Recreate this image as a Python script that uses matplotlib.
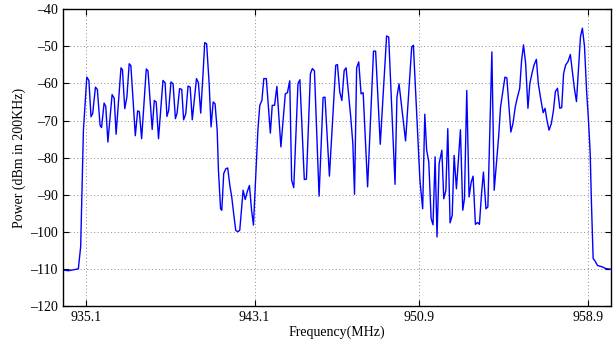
import matplotlib
matplotlib.use("Agg")
import matplotlib.pyplot as plt

# spectrum scan, values
freq_mhz = [
    934.01, 934.28, 934.75, 934.86, 934.99, 935.15, 935.25, 935.35, 935.43, 935.56,
    935.65, 935.78, 935.85, 935.97, 936.05, 936.15, 936.35, 936.45, 936.54, 936.77,
    936.84, 936.95, 937.05, 937.16, 937.24, 937.45, 937.56, 937.64, 937.75, 937.97,
    938.05, 938.25, 938.35, 938.44, 938.55, 938.76, 938.86, 938.95, 939.03, 939.14,
    939.24, 939.35, 939.43, 939.55, 939.65, 939.74, 939.84, 939.95, 940.05, 940.15,
    940.25, 940.35, 940.44, 940.55, 940.66, 940.74, 940.83, 940.95, 941.04, 941.14,
    941.23, 941.33, 941.39, 941.49, 941.55, 941.64, 941.74, 941.83, 941.93, 942.02,
    942.12, 942.21, 942.31, 942.40, 942.56, 942.66, 942.75, 942.86, 942.96, 943.05,
    943.15, 943.26, 943.35, 943.45, 943.54, 943.66, 943.85, 943.94, 944.05, 944.16,
    944.35, 944.56, 944.66, 944.77, 944.86, 944.96, 945.16, 945.25, 945.46, 945.56,
    945.75, 945.84, 945.94, 946.16, 946.35, 946.44, 946.65, 946.95, 947.03, 947.14,
    947.24, 947.35, 947.44, 947.66, 947.76, 947.84, 947.94, 948.04, 948.15, 948.25,
    948.46, 948.74, 948.84, 949.06, 949.36, 949.46, 949.76, 949.85, 949.95, 950.26,
    950.55, 950.63, 950.94, 951.07, 951.17, 951.26, 951.36, 951.47, 951.56, 951.66,
    951.75, 951.85, 951.98, 952.07, 952.17, 952.26, 952.37, 952.47, 952.56, 952.67,
    952.76, 952.86, 952.97, 953.05, 953.16, 953.27, 953.37, 953.46, 953.57, 953.67,
    953.76, 953.86, 953.95, 954.07, 954.16, 954.35, 954.46, 954.67, 954.76, 954.97,
    955.06, 955.25, 955.35, 955.46, 955.55, 955.67, 955.76, 955.85, 955.95, 956.06,
    956.15, 956.25, 956.35, 956.46, 956.55, 956.65, 956.78, 956.87, 956.96, 957.06,
    957.17, 957.27, 957.36, 957.46, 957.57, 957.66, 957.75, 957.85, 957.96, 958.07,
    958.26, 958.36, 958.55, 958.64, 958.74, 958.84, 958.93, 959.01, 959.07, 959.15,
    959.23, 959.36, 959.55, 959.75, 959.97,
]
power_dbm = [
    -110.3, -110.5, -110.0, -104.0, -72.6, -58.3, -59.2, -69.0, -68.1, -61.0,
    -61.6, -71.3, -71.9, -65.3, -66.2, -75.8, -63.0, -64.0, -73.7, -55.8,
    -56.3, -66.8, -63.7, -54.7, -55.2, -74.1, -67.4, -67.6, -74.9, -56.1,
    -56.6, -72.4, -64.6, -65.0, -74.9, -59.2, -59.8, -68.9, -67.3, -59.6,
    -60.1, -69.5, -68.0, -61.4, -61.6, -69.8, -68.2, -60.7, -61.0, -69.8,
    -64.1, -58.7, -59.8, -68.0, -57.4, -49.0, -49.3, -60.1, -71.7, -65.0,
    -65.5, -72.6, -83.4, -93.8, -94.2, -84.3, -83.0, -82.8, -87.5, -90.6,
    -95.5, -99.6, -100.0, -99.6, -88.8, -91.3, -89.3, -87.5, -94.2, -98.2,
    -86.1, -72.6, -65.9, -64.6, -58.7, -58.7, -73.4, -65.9, -65.9, -60.8,
    -77.1, -62.8, -62.5, -59.3, -86.1, -88.1, -60.1, -59.0, -85.9, -85.8,
    -57.4, -56.0, -56.6, -90.4, -63.8, -63.7, -85.0, -55.1, -54.9, -62.3,
    -64.6, -56.5, -55.8, -69.0, -76.2, -89.9, -55.8, -54.2, -62.8, -62.5,
    -87.9, -51.3, -51.3, -76.4, -47.2, -47.5, -87.2, -63.7, -60.1, -75.5,
    -50.2, -49.7, -86.1, -93.8, -68.3, -78.0, -81.2, -96.4, -98.1, -79.8,
    -101.4, -81.6, -78.0, -91.1, -88.8, -72.2, -97.6, -95.6, -79.4, -88.4,
    -80.7, -72.5, -94.2, -91.1, -61.9, -90.6, -86.6, -85.0, -98.0, -97.5,
    -98.0, -89.7, -83.9, -93.8, -93.3, -51.5, -88.8, -74.4, -66.4, -58.3,
    -58.5, -73.1, -70.8, -66.3, -64.0, -61.3, -53.7, -49.6, -54.6, -66.7,
    -60.0, -57.3, -55.0, -53.5, -60.0, -63.6, -67.9, -66.7, -69.9, -72.6,
    -70.8, -67.2, -62.2, -61.3, -66.7, -66.5, -57.3, -55.0, -54.1, -52.2,
    -61.3, -64.9, -47.4, -45.1, -50.0, -62.0, -70.0, -78.8, -92.3, -107.2,
    -107.8, -109.1, -109.4, -109.9, -110.1,
]

x_ticks = [935.1, 943.1, 950.9, 958.9]
y_ticks = list(range(-120, -39, 10))

plt.rcParams["font.family"] = ["Liberation Serif", "DejaVu Serif"]

fig = plt.figure(figsize=(6.16, 3.43), dpi=100)
ax = fig.add_axes([0.1015, 0.108, 0.8905, 0.865])

ax.plot(freq_mhz, power_dbm, color="#0000ff", linewidth=1.0)

ax.set_xlim(934, 960)
ax.set_ylim(-120, -40)
ax.set_xticks(x_ticks)
ax.set_xticklabels([f"{t:.1f}" for t in x_ticks])
ax.set_yticks(y_ticks)
ax.set_yticklabels([f"\u2013{abs(t)}" for t in y_ticks])
ax.grid(True, linestyle=(0, (1, 2.5)), color="#8c8c8c", linewidth=0.7)
ax.tick_params(direction="in", length=4, width=0.8, top=True, right=True,
               labelsize=10, colors="black")
for s in ax.spines.values():
    s.set_linewidth(1.0)

ax.set_xlabel("Frequency(MHz)", fontsize=10, labelpad=1)
ax.set_ylabel("Power (dBm in 200KHz)", fontsize=10, labelpad=3)

fig.savefig("out.png", dpi=100)
